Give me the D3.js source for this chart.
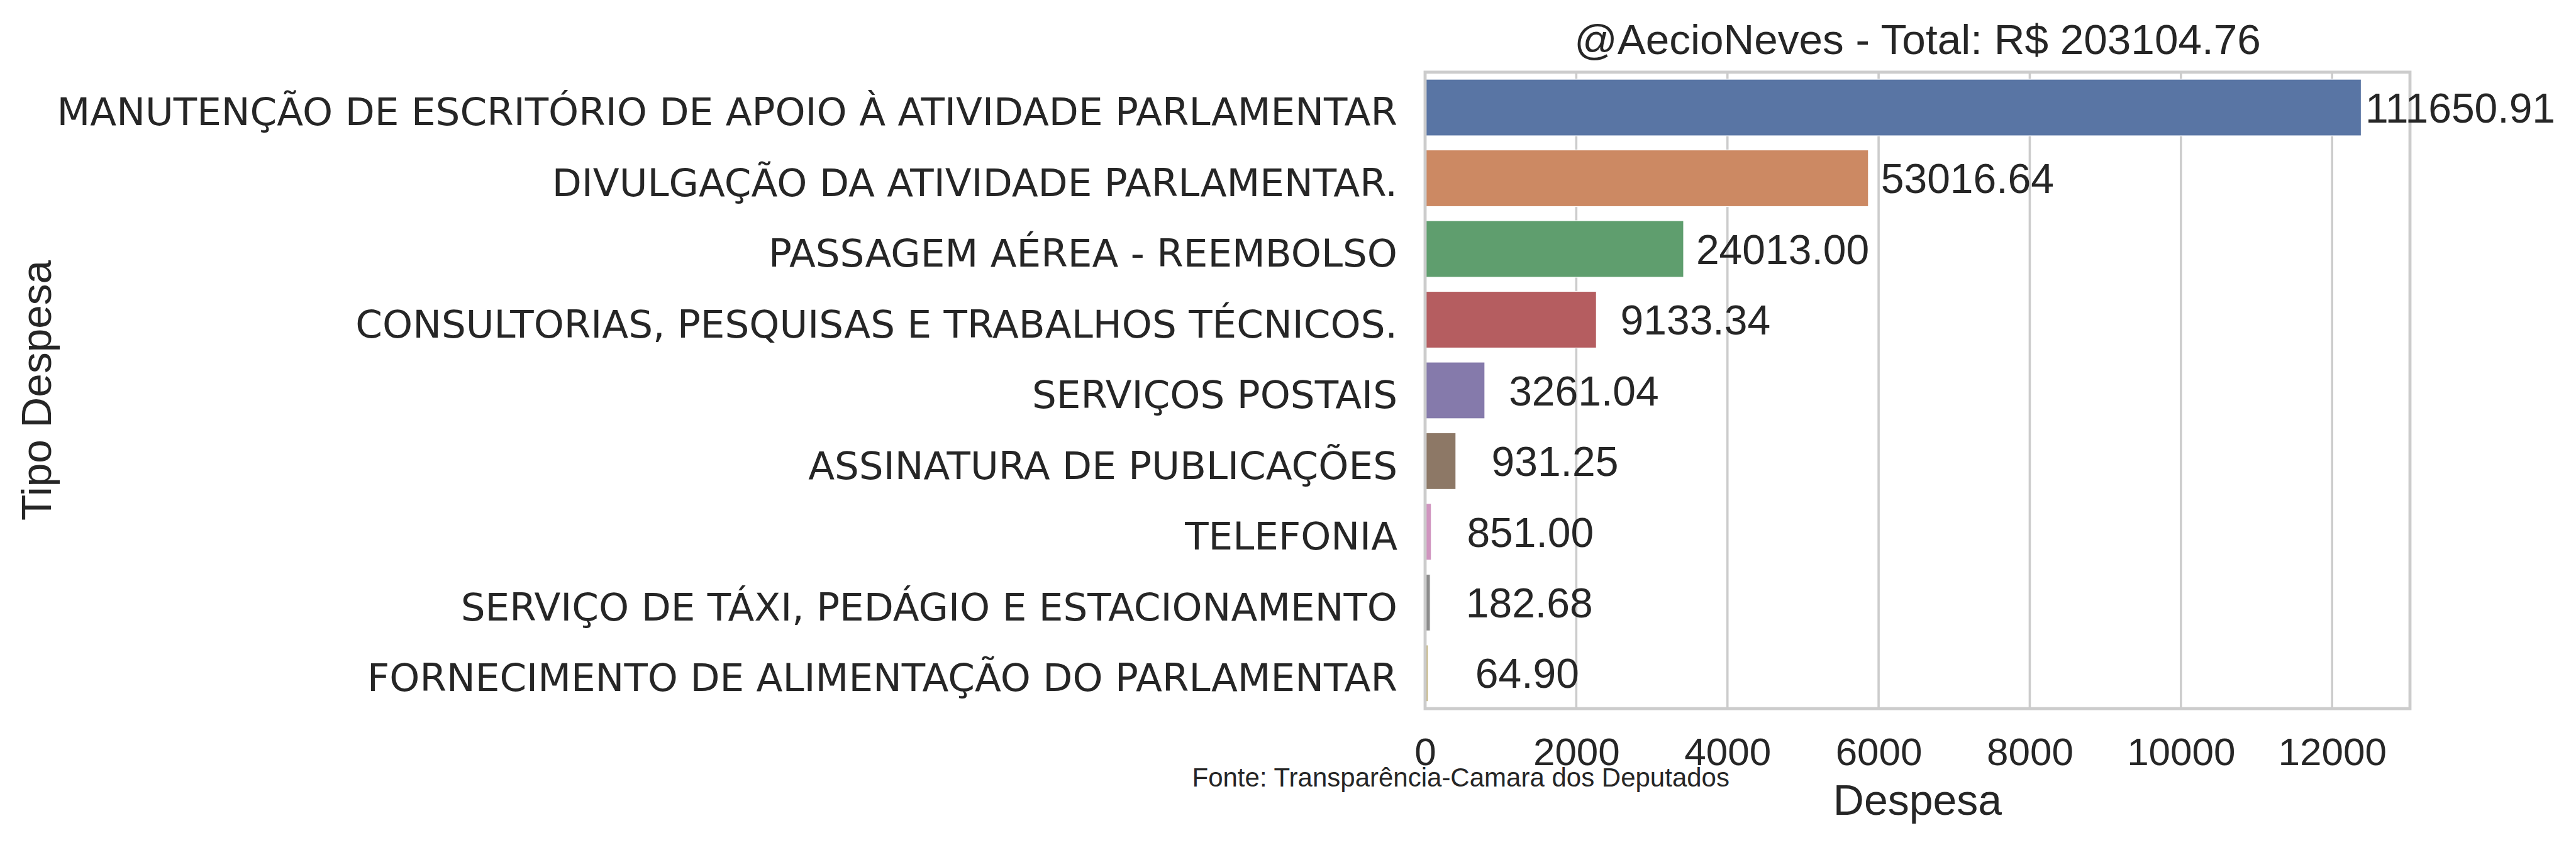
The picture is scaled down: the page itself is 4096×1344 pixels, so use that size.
<!DOCTYPE html>
<html><head><meta charset="utf-8">
<script src="https://cdn.jsdelivr.net/npm/d3@7"></script>
<style>html,body{margin:0;padding:0;background:#fff}</style>
</head><body>
<svg id="chart" width="4096" height="1344"></svg>
<script>
const categories = [
  "MANUTENÇÃO DE ESCRITÓRIO DE APOIO À ATIVIDADE PARLAMENTAR",
  "DIVULGAÇÃO DA ATIVIDADE PARLAMENTAR.",
  "PASSAGEM AÉREA - REEMBOLSO",
  "CONSULTORIAS, PESQUISAS E TRABALHOS TÉCNICOS.",
  "SERVIÇOS POSTAIS",
  "ASSINATURA DE PUBLICAÇÕES",
  "TELEFONIA",
  "SERVIÇO DE TÁXI, PEDÁGIO E ESTACIONAMENTO",
  "FORNECIMENTO DE ALIMENTAÇÃO DO PARLAMENTAR"
];
const barValues = [12385, 5865, 3420, 2266, 790, 407, 82, 68, 40];
const totals = [111650.91, 53016.64, 24013.00, 9133.34, 3261.04, 931.25, 851.00, 182.68, 64.90];
const colors = ["#5975a4","#cc8963","#5f9e6e","#b55d60","#857aab","#8d7866","#d095bf","#8c8c8c","#c1b37f"];
const xTicks = [0, 2000, 4000, 6000, 8000, 10000, 12000];
const xMax = 13030;
const titleText = "@AecioNeves - Total: R$ 203104.76";
const xLabel = "Despesa";
const yLabel = "Tipo Despesa";
const sourceText = "Fonte: Transparência-Camara dos Deputados";

const data = categories.map((c, i) => ({cat: c, v: barValues[i], total: totals[i], color: colors[i]}));

const svg = d3.select("#chart");
const L = 2266, R = 3832, T = 114.8, B = 1127.1;
const ARIAL = "'Liberation Sans', Arial, sans-serif";
const DEJAVU = "'DejaVu Sans', sans-serif";
const TXT = "#262626";

const x = d3.scaleLinear().domain([0, xMax]).range([L, R]);
const y = d3.scaleBand().domain(categories).range([T, B]).paddingInner(0.2).paddingOuter(0.1);

// gridlines
svg.append("g").selectAll("line").data(xTicks).join("line")
  .attr("x1", d => x(d)).attr("x2", d => x(d))
  .attr("y1", T).attr("y2", B)
  .attr("stroke", "#cccccc").attr("stroke-width", 3.6);

// bars
svg.append("g").selectAll("rect").data(data).join("rect")
  .attr("x", x(0)).attr("y", d => y(d.cat))
  .attr("width", d => x(d.v) - x(0)).attr("height", y.bandwidth())
  .attr("fill", d => d.color)
  .attr("stroke", "#ffffff").attr("stroke-width", 1.2);

// spines
svg.append("rect").attr("x", L).attr("y", T).attr("width", R - L).attr("height", B - T)
  .attr("fill", "none").attr("stroke", "#cccccc").attr("stroke-width", 4.8);

// x axis tick labels
const xAxis = d3.axisBottom(x).tickValues(xTicks).tickSize(0).tickPadding(0).tickFormat(d3.format("d"));
const gx = svg.append("g").attr("transform", `translate(0,${B})`).call(xAxis);
gx.select(".domain").remove();
gx.selectAll("text")
  .attr("dy", null).attr("y", 1216.8 - B)
  .attr("font-family", ARIAL).attr("font-size", 62).attr("fill", TXT);

// y axis tick labels
const yAxis = d3.axisLeft(y).tickSize(0).tickPadding(0);
const gy = svg.append("g").attr("transform", `translate(${L},0)`).call(yAxis);
gy.select(".domain").remove();
gy.selectAll("text")
  .attr("dy", null).attr("x", -44).attr("y", 28.2)
  .attr("text-anchor", "end")
  .attr("font-family", DEJAVU).attr("font-size", 61.2).attr("fill", TXT);

// value labels
svg.append("g").selectAll("text").data(data).join("text")
  .attr("x", d => x(d.v) + 157.5)
  .attr("y", d => y(d.cat) + y.bandwidth() / 2 + 23.6)
  .attr("text-anchor", "middle")
  .attr("font-family", ARIAL).attr("font-size", 66).attr("fill", TXT)
  .text(d => d.total.toFixed(2));

// title
svg.append("text").attr("x", (L + R) / 2).attr("y", 86)
  .attr("text-anchor", "middle").attr("font-family", ARIAL).attr("font-size", 67.5).attr("fill", TXT)
  .text(titleText);

// x label
svg.append("text").attr("x", (L + R) / 2).attr("y", 1295.5)
  .attr("text-anchor", "middle").attr("font-family", ARIAL).attr("font-size", 68).attr("fill", TXT)
  .text(xLabel);

// y label
svg.append("text").attr("transform", `translate(81,${(T + B) / 2}) rotate(-90)`)
  .attr("text-anchor", "middle").attr("font-family", ARIAL).attr("font-size", 67.5).attr("fill", TXT)
  .text(yLabel);

// source
svg.append("text").attr("x", 1895.5).attr("y", 1251)
  .attr("font-family", ARIAL).attr("font-size", 42).attr("fill", TXT)
  .text(sourceText);
</script>
</body></html>
